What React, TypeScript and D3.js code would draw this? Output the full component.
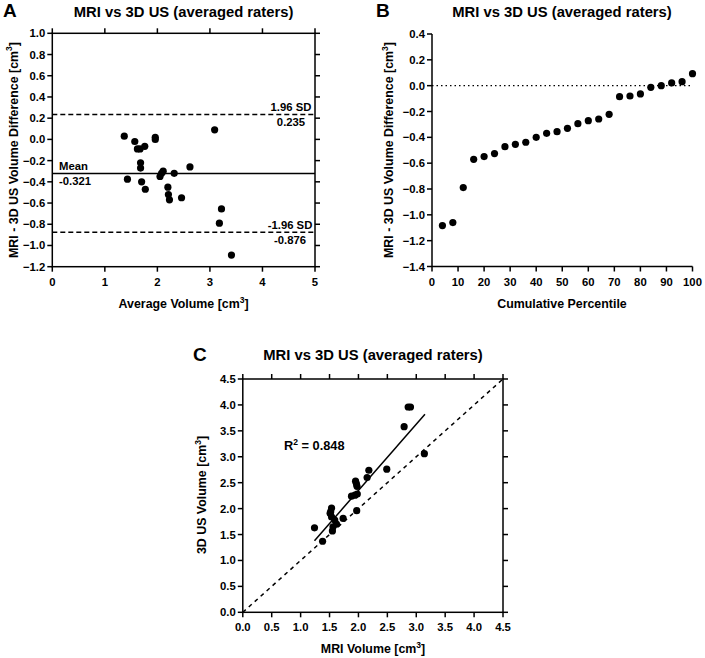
import React from "react";
import * as d3 from "d3";

// ---------- Data ----------
// Panel A: Bland–Altman (average volume vs difference)
const aAverage = [1.37, 1.57, 1.62, 1.67, 1.76, 1.96, 1.96, 1.68, 1.68, 1.43, 1.70, 1.77, 2.05, 2.08, 2.11, 2.32, 2.62, 2.20, 2.21, 2.23, 2.46, 3.09, 3.22, 3.18, 3.41];
const aDifference = [0.03, -0.02, -0.09, -0.09, -0.065, 0.02, 0.0, -0.22, -0.27, -0.375, -0.40, -0.47, -0.35, -0.32, -0.30, -0.32, -0.26, -0.45, -0.52, -0.57, -0.55, 0.09, -0.655, -0.79, -1.09];
const aMean = -0.321;
const aUpper = 0.235;
const aLower = -0.876;
const aXTicks = [0, 1, 2, 3, 4, 5];
const aYTicks = [-1.2, -1.0, -0.8, -0.6, -0.4, -0.2, 0.0, 0.2, 0.4, 0.6, 0.8, 1.0];

// Panel B: cumulative percentile plot
const bPercentile = [4, 8, 12, 16, 20, 24, 28, 32, 36, 40, 44, 48, 52, 56, 60, 64, 68, 72, 76, 80, 84, 88, 92, 96, 100];
const bDifference = [-1.083, -1.06, -0.789, -0.57, -0.549, -0.526, -0.472, -0.454, -0.438, -0.40, -0.369, -0.356, -0.33, -0.294, -0.271, -0.258, -0.222, -0.085, -0.08, -0.064, -0.013, 0.0, 0.021, 0.031, 0.093];
const bXTicks = [0, 10, 20, 30, 40, 50, 60, 70, 80, 90, 100];
const bYTicks = [-1.4, -1.2, -1.0, -0.8, -0.6, -0.4, -0.2, 0.0, 0.2, 0.4];

// Panel C: MRI vs 3D US volumes
const cMri = [1.24, 1.38, 1.51, 1.52, 1.535, 1.535, 1.56, 1.55, 1.59, 1.62, 1.735, 1.88, 1.94, 1.98, 1.95, 1.965, 1.975, 1.97, 2.15, 2.18, 2.49, 2.79, 2.86, 2.90, 3.14];
const cUs = [1.63, 1.37, 1.91, 1.94, 2.01, 1.84, 1.65, 1.57, 1.78, 1.70, 1.81, 2.24, 2.26, 2.28, 2.53, 2.48, 2.43, 1.96, 2.60, 2.74, 2.76, 3.58, 3.96, 3.96, 3.06];
const cFitX = [1.24, 3.15];
const cFitY = [1.38, 3.82];
const cIdentity = [0, 4.5];
const cR2 = "0.848";
const cTicks = [0, 0.5, 1.0, 1.5, 2.0, 2.5, 3.0, 3.5, 4.0, 4.5];

const title = "MRI vs 3D US (averaged raters)";
const FONT = "'Liberation Sans', Arial, Helvetica, sans-serif";
const TICK = 5;
const SW = 1.5;

type Sc = d3.ScaleLinear<number, number>;

function Cm({ prefix }: { prefix: string }) {
  return (
    <>
      {prefix}
      <tspan>[cm</tspan>
      <tspan dy={-5.5} fontSize={8.5}>3</tspan>
      <tspan dy={5.5}>]</tspan>
    </>
  );
}

function Axes({ x, y, xt, yt, frame, fmtX, fmtY }: { x: Sc; y: Sc; xt: number[]; yt: number[]; frame: boolean; fmtX: (v: number) => string; fmtY: (v: number) => string }) {
  const [x0, x1] = x.range();
  const [y0, y1] = y.range(); // y0 bottom, y1 top
  return (
    <g>
      {frame ? (
        <rect x={x0} y={y1} width={x1 - x0} height={y0 - y1} fill="none" stroke="#000" strokeWidth={SW} />
      ) : (
        <>
          <line x1={x0} x2={x0} y1={y0} y2={y1} stroke="#000" strokeWidth={SW} />
          <line x1={x0} x2={x1} y1={y0} y2={y0} stroke="#000" strokeWidth={SW} />
        </>
      )}
      {xt.map((v) => (
        <g key={"x" + v}>
          <line x1={x(v)} x2={x(v)} y1={y0} y2={y0 + TICK} stroke="#000" strokeWidth={SW} />
          {frame && <line x1={x(v)} x2={x(v)} y1={y1} y2={y1 - TICK} stroke="#000" strokeWidth={SW} />}
          <text x={x(v)} y={y0 + TICK + 14} textAnchor="middle" fontSize={11.3} fontWeight="bold">{fmtX(v)}</text>
        </g>
      ))}
      {yt.map((v) => (
        <g key={"y" + v}>
          <line x1={x0 - TICK} x2={x0} y1={y(v)} y2={y(v)} stroke="#000" strokeWidth={SW} />
          {frame && <line x1={x1} x2={x1 + TICK} y1={y(v)} y2={y(v)} stroke="#000" strokeWidth={SW} />}
          <text x={x0 - TICK - 2} y={y(v) + 4} textAnchor="end" fontSize={11.3} fontWeight="bold">{fmtY(v)}</text>
        </g>
      ))}
    </g>
  );
}

const f1 = d3.format(".1f");
const f0 = d3.format("d");

export default function App() {
  // Panel A scales
  const ax = d3.scaleLinear().domain([0, 5]).range([52.3, 315]);
  const ay = d3.scaleLinear().domain([-1.2, 1.0]).range([266.7, 33.3]);
  // Panel B scales
  const bx = d3.scaleLinear().domain([0, 100]).range([432, 692.5]);
  const by = d3.scaleLinear().domain([-1.4, 0.4]).range([266.5, 34]);
  // Panel C scales
  const cx = d3.scaleLinear().domain([0, 4.5]).range([242.8, 503]);
  const cy = d3.scaleLinear().domain([0, 4.5]).range([612.3, 379]);

  const line = d3.line<[number, number]>();

  return (
    <svg width={705} height={658} style={{ position: "absolute", left: 0, top: 0, background: "#fff" }} fontFamily={FONT}>
      <rect width={705} height={658} fill="#fff" />

      {/* ---------- Panel A ---------- */}
      <text x={3} y={17} fontSize={19} fontWeight="bold">A</text>
      <text x={183.6} y={17} textAnchor="middle" fontSize={14.8} fontWeight="bold">{title}</text>
      <Axes x={ax} y={ay} xt={aXTicks} yt={aYTicks} frame fmtX={f0} fmtY={f1} />
      <line x1={ax(0)} x2={ax(5)} y1={ay(aUpper)} y2={ay(aUpper)} stroke="#000" strokeWidth={1.5} strokeDasharray="5,3" />
      <line x1={ax(0)} x2={ax(5)} y1={ay(aLower)} y2={ay(aLower)} stroke="#000" strokeWidth={1.5} strokeDasharray="5,3" />
      <line x1={ax(0)} x2={ax(5)} y1={ay(aMean)} y2={ay(aMean)} stroke="#000" strokeWidth={1.5} />
      <text x={291} y={ay(aUpper) - 3} textAnchor="middle" fontSize={11.3} fontWeight="bold">1.96 SD</text>
      <text x={291} y={ay(aUpper) + 12} textAnchor="middle" fontSize={11.3} fontWeight="bold">{aUpper.toFixed(3)}</text>
      <text x={290} y={ay(aLower) - 3} textAnchor="middle" fontSize={11.3} fontWeight="bold">-1.96 SD</text>
      <text x={290} y={ay(aLower) + 12} textAnchor="middle" fontSize={11.3} fontWeight="bold">{aLower.toFixed(3)}</text>
      <text x={59} y={ay(aMean) - 3} textAnchor="start" fontSize={11.3} fontWeight="bold">Mean</text>
      <text x={59} y={ay(aMean) + 12} textAnchor="start" fontSize={11.3} fontWeight="bold">{aMean.toFixed(3)}</text>
      {aAverage.map((v, i) => (
        <circle key={i} cx={ax(v)} cy={ay(aDifference[i])} r={3.6} fill="#000" />
      ))}
      <text x={183.6} y={308} textAnchor="middle" fontSize={12.4} fontWeight="bold"><Cm prefix="Average Volume " /></text>
      <text transform={`translate(17.5,150) rotate(-90)`} textAnchor="middle" fontSize={12.4} fontWeight="bold"><Cm prefix="MRI - 3D US Volume Difference " /></text>

      {/* ---------- Panel B ---------- */}
      <text x={376} y={17} fontSize={19} fontWeight="bold">B</text>
      <text x={562} y={17} textAnchor="middle" fontSize={14.8} fontWeight="bold">{title}</text>
      <line x1={bx(0)} x2={bx(100)} y1={by(0)} y2={by(0)} stroke="#000" strokeWidth={1.3} strokeDasharray="1.5,3" />
      <Axes x={bx} y={by} xt={bXTicks} yt={bYTicks} frame={false} fmtX={f0} fmtY={f1} />
      {bPercentile.map((v, i) => (
        <circle key={i} cx={bx(v)} cy={by(bDifference[i])} r={3.6} fill="#000" />
      ))}
      <text x={562} y={308} textAnchor="middle" fontSize={12.4} fontWeight="bold">Cumulative Percentile</text>
      <text transform={`translate(393,150) rotate(-90)`} textAnchor="middle" fontSize={12.4} fontWeight="bold"><Cm prefix="MRI - 3D US Volume Difference " /></text>

      {/* ---------- Panel C ---------- */}
      <text x={193} y={361} fontSize={19} fontWeight="bold">C</text>
      <text x={373} y={360} textAnchor="middle" fontSize={14.8} fontWeight="bold">{title}</text>
      <Axes x={cx} y={cy} xt={cTicks} yt={cTicks} frame fmtX={f1} fmtY={f1} />
      <path d={line([[cx(cIdentity[0]), cy(cIdentity[0])], [cx(cIdentity[1]), cy(cIdentity[1])]]) || ""} stroke="#000" strokeWidth={1.5} strokeDasharray="4,4" fill="none" />
      <path d={line([[cx(cFitX[0]), cy(cFitY[0])], [cx(cFitX[1]), cy(cFitY[1])]]) || ""} stroke="#000" strokeWidth={1.5} fill="none" />
      {cMri.map((v, i) => (
        <circle key={i} cx={cx(v)} cy={cy(cUs[i])} r={3.6} fill="#000" />
      ))}
      <text x={284} y={450} fontSize={12.8} fontWeight="bold">
        R<tspan dy={-5.5} fontSize={8.5}>2</tspan><tspan dy={5.5}>{" = " + cR2}</tspan>
      </text>
      <text x={373} y={653} textAnchor="middle" fontSize={12.4} fontWeight="bold"><Cm prefix="MRI Volume " /></text>
      <text transform={`translate(206,495) rotate(-90)`} textAnchor="middle" fontSize={12.4} fontWeight="bold"><Cm prefix="3D US Volume " /></text>
    </svg>
  );
}
